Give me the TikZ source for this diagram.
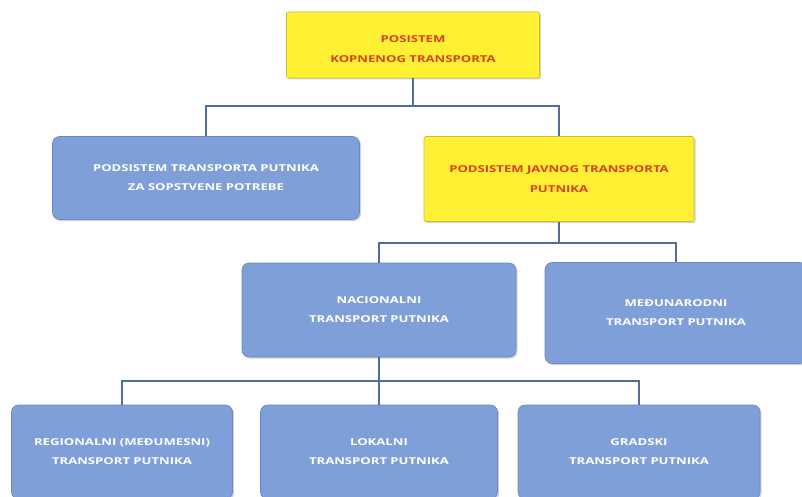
\documentclass[tikz,border=0pt]{standalone}
\usepackage{fontspec}
\setmainfont{Open Sans}
\newfontfamily\widefont[FakeStretch=1.38]{Open Sans}
\usetikzlibrary{shadows}
\definecolor{boxblue}{HTML}{7F9FD8}
\definecolor{boxyellow}{HTML}{FFF033}
\definecolor{txtred}{HTML}{D9401A}
\definecolor{linecol}{HTML}{4F6E9E}
\tikzset{
  bluebox/.style={draw=boxblue!85!black, line width=0.6pt, fill=boxblue, rounded corners=7pt,
    text=white, font=\widefont\bfseries\fontsize{9.5}{19}\selectfont, align=center, inner sep=0pt,
    drop shadow={shadow xshift=1.5pt, shadow yshift=-1.5pt, opacity=0.35}},
  yellowbox/.style={draw=boxyellow!80!black, line width=0.6pt, fill=boxyellow, rounded corners=2pt,
    text=txtred, font=\widefont\bfseries\fontsize{9.5}{20}\selectfont, align=center, inner sep=0pt,
    drop shadow={shadow xshift=1.5pt, shadow yshift=-1.5pt, opacity=0.35}},
  conn/.style={draw=linecol, line width=1.4pt}
}
\begin{document}
\begin{tikzpicture}[x=1pt,y=-1pt]
\useasboundingbox (0,0) rectangle (802,497);
\node[yellowbox, minimum width=253pt, minimum height=66pt] (top) at (413,45) {\rule{0pt}{15pt}POSISTEM\\KOPNENOG TRANSPORTA};
\node[bluebox, minimum width=307pt, minimum height=83pt] (own) at (206,178) {PODSISTEM TRANSPORTA PUTNIKA\\ZA SOPSTVENE POTREBE};
\node[yellowbox, minimum width=270pt, minimum height=85pt] (pub) at (559,179) {PODSISTEM JAVNOG TRANSPORTA\\PUTNIKA};
\node[bluebox, minimum width=274pt, minimum height=94pt] (nac) at (379,310) {NACIONALNI\\TRANSPORT PUTNIKA};
\node[bluebox, minimum width=262pt, minimum height=101pt] (med) at (676,313) {MEĐUNARODNI\\TRANSPORT PUTNIKA};
\node[bluebox, minimum width=221pt, minimum height=94pt] (reg) at (122,452) {REGIONALNI (MEĐUMESNI)\\TRANSPORT PUTNIKA};
\node[bluebox, minimum width=237pt, minimum height=94pt] (lok) at (379,452) {LOKALNI\\TRANSPORT PUTNIKA};
\node[bluebox, minimum width=242pt, minimum height=94pt] (gra) at (639,452) {GRADSKI\\TRANSPORT PUTNIKA};
\coordinate (j1) at (413,106);
\coordinate (j2) at (559,243);
\coordinate (j3) at (379,381);
\draw[conn] (top.south) -- (j1);
\draw[conn] (j1) -| (own.north);
\draw[conn] (j1) -| (pub.north);
\draw[conn] (pub.south) -- (j2);
\draw[conn] (j2) -| (nac.north);
\draw[conn] (j2) -| (med.north);
\draw[conn] (nac.south) -- (j3);
\draw[conn] (j3) -| (reg.north);
\draw[conn] (j3) -- (lok.north);
\draw[conn] (j3) -| (gra.north);
\end{tikzpicture}
\end{document}
